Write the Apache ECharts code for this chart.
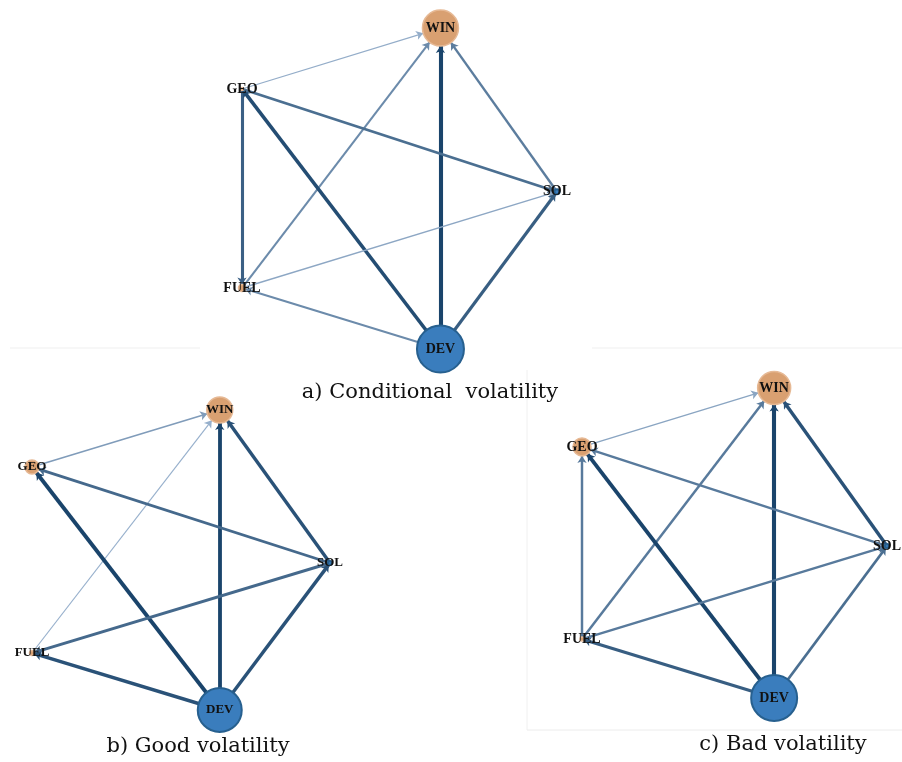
<!DOCTYPE html>
<html>
<head>
<meta charset="utf-8">
<script src="https://cdn.jsdelivr.net/npm/echarts@6/dist/echarts.min.js"></script>
<style>
  html, body { margin: 0; padding: 0; background: #ffffff; }
  #chart { width: 902px; height: 762px; }
</style>
</head>
<body>
<div id="chart"></div>
<script>
// Spillover networks between the five markets, one panel per volatility measure.
const nodeNames = ['WIN', 'GEO', 'SOL', 'FUEL', 'DEV'];
// Node placement on a 0-100 layout grid (y grows downwards), shared by all panels.
const nodeX = [63, 0, 100, 0, 63];
const nodeY = [0, 19, 51, 81, 100];
const nodeGroup = ['orange', 'orange', 'blue', 'orange', 'blue'];

const panelTitles = ['a) Conditional  volatility', 'b) Good volatility', 'c) Bad volatility'];

// Node sizes (diameter) in each panel.
const sizesA = [36, 3, 5, 7, 47];
const sizesB = [26, 14, 4, 5, 44];
const sizesC = [33, 18, 4, 4, 46];

// Directed spillover links: [source, target, strength].
const linksA = [
  ['GEO', 'WIN', 0.8], ['FUEL', 'WIN', 2.0], ['DEV', 'WIN', 5.0], ['SOL', 'WIN', 2.5],
  ['GEO', 'FUEL', 3.5], ['DEV', 'GEO', 4.2], ['GEO', 'SOL', 3.0], ['FUEL', 'SOL', 1.0],
  ['DEV', 'FUEL', 2.0], ['DEV', 'SOL', 3.6]
];
const linksB = [
  ['GEO', 'WIN', 1.4], ['FUEL', 'WIN', 0.7], ['DEV', 'WIN', 4.6], ['SOL', 'WIN', 4.0],
  ['SOL', 'GEO', 3.2], ['DEV', 'GEO', 4.6], ['SOL', 'FUEL', 3.2], ['DEV', 'FUEL', 4.0],
  ['DEV', 'SOL', 4.0]
];
const linksC = [
  ['GEO', 'WIN', 1.1], ['FUEL', 'WIN', 2.6], ['DEV', 'WIN', 5.0], ['SOL', 'WIN', 4.0],
  ['FUEL', 'GEO', 2.6], ['DEV', 'GEO', 4.6], ['SOL', 'GEO', 2.6], ['FUEL', 'SOL', 2.6],
  ['DEV', 'FUEL', 3.6], ['DEV', 'SOL', 3.0]
];

// Panel boxes on the page.
const panelBoxes = [
  { left: 242, top: 28, width: 315, height: 321, label: 14, title: [430, 393] },
  { left: 32, top: 410, width: 298, height: 300, label: 13, title: [198, 747] },
  { left: 582, top: 388, width: 305, height: 310, label: 14, title: [783, 745] }
];

const nodeStyles = {
  orange: { color: '#d9a071', borderColor: '#e6b995', borderWidth: 1.5 },
  blue: { color: '#3a7dbd', borderColor: '#27608f', borderWidth: 2 }
};

function mix(a, b, t) {
  const pa = a.match(/\w\w/g).map(h => parseInt(h, 16));
  const pb = b.match(/\w\w/g).map(h => parseInt(h, 16));
  const c = pa.map((v, i) => Math.round(v + (pb[i] - v) * t));
  return 'rgb(' + c.join(',') + ')';
}

function linkStyle(w) {
  const t = Math.min(1, Math.max(0, (w - 0.7) / 3.8));
  return { width: 0.7 + 0.68 * w, color: mix('#97b0cc', '#1a446b', t), opacity: 1, curveness: 0 };
}

function buildSeries(i, sizes, links) {
  const box = panelBoxes[i];
  return {
    type: 'graph',
    coordinateSystem: 'cartesian2d',
    xAxisIndex: i,
    yAxisIndex: i,
    silent: true,
    edgeSymbol: ['none', 'arrow'],
    edgeSymbolSize: [0, 7],
    label: {
      show: true,
      position: 'inside',
      color: '#111111',
      fontFamily: '"Liberation Serif", serif',
      fontWeight: 'bold',
      fontSize: box.label
    },
    data: nodeNames.map((name, k) => ({
      name: name,
      value: [nodeX[k], nodeY[k]],
      symbolSize: sizes[k],
      itemStyle: nodeStyles[nodeGroup[k]]
    })),
    links: links.map(l => ({ source: l[0], target: l[1], lineStyle: linkStyle(l[2]) })),
    z: 2
  };
}

const grids = panelBoxes.map(b => ({ left: b.left, top: b.top, width: b.width, height: b.height }));
const axisBase = { min: 0, max: 100, show: false, type: 'value' };

const option = {
  backgroundColor: '#ffffff',
  animation: false,
  grid: grids,
  xAxis: grids.map((g, i) => Object.assign({ gridIndex: i }, axisBase)),
  yAxis: grids.map((g, i) => Object.assign({ gridIndex: i, inverse: true }, axisBase)),
  series: [
    buildSeries(0, sizesA, linksA),
    buildSeries(1, sizesB, linksB),
    buildSeries(2, sizesC, linksC)
  ],
  graphic: [
    // faint frame edges around the lower panels
    { type: 'line', shape: { x1: 10, y1: 348, x2: 200, y2: 348 }, style: { stroke: '#efefef', lineWidth: 1 } },
    { type: 'line', shape: { x1: 592, y1: 348, x2: 902, y2: 348 }, style: { stroke: '#efefef', lineWidth: 1 } },
    { type: 'line', shape: { x1: 527, y1: 370, x2: 527, y2: 730 }, style: { stroke: '#f0f0f0', lineWidth: 1 } },
    { type: 'line', shape: { x1: 527, y1: 730, x2: 902, y2: 730 }, style: { stroke: '#ececec', lineWidth: 1 } }
  ].concat(panelTitles.map((t, i) => ({
    type: 'text',
    x: panelBoxes[i].title[0],
    y: panelBoxes[i].title[1],
    style: {
      text: t,
      fill: '#111111',
      font: '21px "DejaVu Serif"',
      textAlign: 'center',
      textVerticalAlign: 'middle'
    }
  })))
};

const chart = echarts.init(document.getElementById('chart'), null, { renderer: 'canvas' });
chart.setOption(option);
</script>
</body>
</html>
